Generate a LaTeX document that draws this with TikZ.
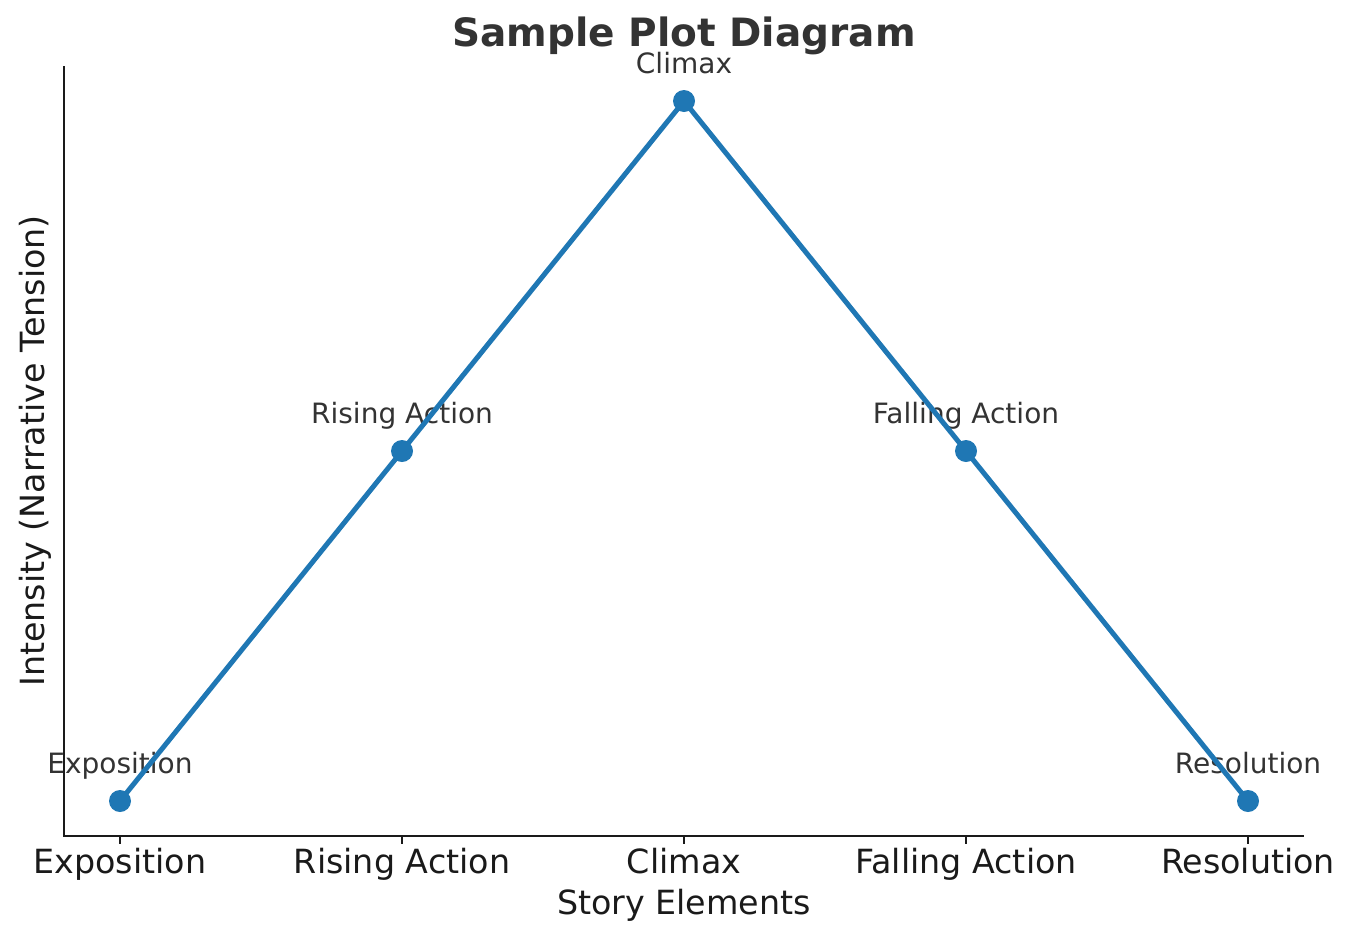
\documentclass[tikz,border=0pt]{standalone}
\usepackage{fontspec}
\setmainfont{DejaVu Sans}
\definecolor{mblue}{HTML}{1F77B4}
\definecolor{txt}{HTML}{333333}
\definecolor{ax}{HTML}{1A1A1A}
\begin{document}
\begin{tikzpicture}[x=1pt,y=-1pt,
  pt/.style={circle,fill=mblue,inner sep=0pt,minimum size=22pt},
  ann/.style={text=txt,font=\fontsize{28}{32}\selectfont},
  tick/.style={text=ax,font=\fontsize{33.3}{38}\selectfont,anchor=base},
  axl/.style={text=ax,font=\fontsize{33.3}{38}\selectfont}]
\useasboundingbox (0,0) rectangle (1354,943);
\coordinate (o) at (64,836);
\coordinate (top) at (64,66);
\coordinate (right) at (1304,836);
\draw[ax,line width=2.4pt] (top) -- (o) -- (right);
\foreach \n/\x/\y/\t in {a/120/801/Exposition,b/402/451/Rising Action,c/684/101/Climax,d/966/451/Falling Action,e/1248/801/Resolution}{
  \coordinate (\n) at (\x,\y);
  \coordinate (t\n) at (\x,836);
  \coordinate (u\n) at (\x,844);
  \draw[ax,line width=1.8pt] (t\n) -- (u\n);
  \node[tick] (l\n) at (\x,873) {\t};
  \node[ann,anchor=base] (n\n) at (\x,\y-28) {\t};
}
\draw[mblue,line width=5pt,line join=round] (a) -- (b) -- (c) -- (d) -- (e);
\foreach \n in {a,b,c,d,e} \node[pt] at (\n) {};
\node[text=txt,font=\bfseries\fontsize{39}{44}\selectfont] (title) at (684,36) {Sample Plot Diagram};
\node[axl] (xl) at (684,905) {Story Elements};
\node[axl,rotate=90] (yl) at (35,451) {Intensity (Narrative Tension)};
\end{tikzpicture}
\end{document}
